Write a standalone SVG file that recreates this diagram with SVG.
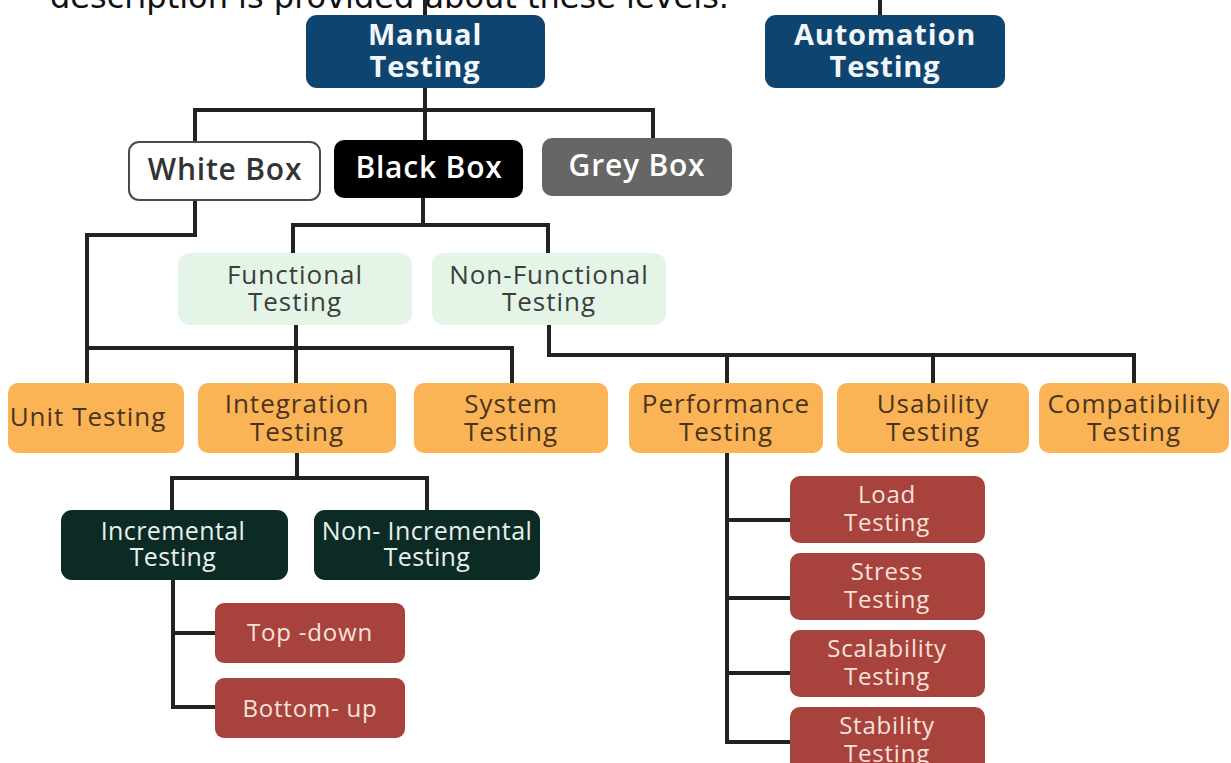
<svg xmlns="http://www.w3.org/2000/svg" width="1231" height="763" viewBox="0 0 1231 763">
  <style>
    .t { font-family: "Open Sans", "Noto Sans", "Liberation Sans", sans-serif; text-anchor: middle; }
    .hdr { font-family: "DejaVu Sans", sans-serif; font-size: 32px; fill: #111; }
    .navy rect { fill: #0e4470; }
    .navy text { fill: #f2f6f8; font-weight: 700; font-size: 29px; letter-spacing: 0.8px; }
    .box text { font-size: 30px; font-weight: 600; letter-spacing: 0.8px; }
    .green rect { fill: #e4f5e7; }
    .green text { fill: #3a3f3c; font-size: 26px; letter-spacing: 1px; }
    .orange rect { fill: #fbb455; }
    .orange text { fill: #4a3420; font-size: 26px; letter-spacing: 1px; }
    .dark rect { fill: #0c2b25; }
    .dark text { fill: #e8f0ec; font-size: 25px; letter-spacing: 0.4px; }
    .red rect { fill: #a8423c; }
    .red text { fill: #f7e3dc; font-size: 24px; letter-spacing: 0.8px; }
    .links path { fill: none; stroke: #222; stroke-width: 4; }
  </style>

  <rect width="1231" height="763" fill="#ffffff"/>

  <!-- page text cut at the top edge -->
  <text class="hdr" x="50" y="8">description is provided about these levels.</text>

  <!-- connectors -->
  <g class="links">
    <path d="M425 0 V15"/>
    <path d="M880 0 V15"/>
    <path d="M425 88 V140 M195 142 V110 H653 V138"/>
    <path d="M195 200 V235 H87 V383"/>
    <path d="M423 198 V225 M293 253 V225 H548 V253"/>
    <path d="M296 325 V383 M87 348 H512 V383"/>
    <path d="M549 325 V355 H1134 V383 M727 355 V383 M933 355 V383"/>
    <path d="M297 453 V478 M172 510 V478 H427 V510"/>
    <path d="M173 580 V707 H215 M173 633 H215"/>
    <path d="M727 453 V742 H790 M727 520 H790 M727 598 H790 M727 673 H790"/>
  </g>

  <!-- top level -->
  <g id="manual" class="navy">
    <rect x="306" y="15" width="239" height="73" rx="11"/>
    <text class="t" x="425" y="45">Manual</text>
    <text class="t" x="425" y="77">Testing</text>
  </g>
  <g id="automation" class="navy">
    <rect x="765" y="15" width="240" height="73" rx="11"/>
    <text class="t" x="885" y="45">Automation</text>
    <text class="t" x="885" y="77">Testing</text>
  </g>

  <!-- box types -->
  <g id="white-box" class="box">
    <rect x="129" y="142" width="191" height="58" rx="10" fill="#ffffff" stroke="#4a4a4a" stroke-width="2"/>
    <text class="t" x="225" y="180" fill="#333">White Box</text>
  </g>
  <g id="black-box" class="box">
    <rect x="334" y="140" width="189" height="58" rx="10" fill="#000000"/>
    <text class="t" x="429" y="178" fill="#ffffff">Black Box</text>
  </g>
  <g id="grey-box" class="box">
    <rect x="542" y="138" width="190" height="58" rx="10" fill="#666666"/>
    <text class="t" x="637" y="176" fill="#ffffff">Grey Box</text>
  </g>

  <!-- functional split -->
  <g id="functional" class="green">
    <rect x="178" y="253" width="234" height="72" rx="12"/>
    <text class="t" x="295" y="284">Functional</text>
    <text class="t" x="295" y="311">Testing</text>
  </g>
  <g id="non-functional" class="green">
    <rect x="432" y="253" width="234" height="72" rx="12"/>
    <text class="t" x="549" y="284">Non-Functional</text>
    <text class="t" x="549" y="311">Testing</text>
  </g>

  <!-- testing levels -->
  <g id="unit" class="orange">
    <rect x="8" y="383" width="176" height="70" rx="10"/>
    <text class="t" x="88" y="426">Unit Testing</text>
  </g>
  <g id="integration" class="orange">
    <rect x="198" y="383" width="198" height="70" rx="10"/>
    <text class="t" x="297" y="413">Integration</text>
    <text class="t" x="297" y="441">Testing</text>
  </g>
  <g id="system" class="orange">
    <rect x="414" y="383" width="194" height="70" rx="10"/>
    <text class="t" x="511" y="413">System</text>
    <text class="t" x="511" y="441">Testing</text>
  </g>
  <g id="performance" class="orange">
    <rect x="629" y="383" width="194" height="70" rx="10"/>
    <text class="t" x="726" y="413">Performance</text>
    <text class="t" x="726" y="441">Testing</text>
  </g>
  <g id="usability" class="orange">
    <rect x="837" y="383" width="192" height="70" rx="10"/>
    <text class="t" x="933" y="413">Usability</text>
    <text class="t" x="933" y="441">Testing</text>
  </g>
  <g id="compatibility" class="orange">
    <rect x="1039" y="383" width="190" height="70" rx="10"/>
    <text class="t" x="1134" y="413">Compatibility</text>
    <text class="t" x="1134" y="441">Testing</text>
  </g>

  <!-- integration approaches -->
  <g id="incremental" class="dark">
    <rect x="61" y="510" width="227" height="70" rx="11"/>
    <text class="t" x="173" y="540">Incremental</text>
    <text class="t" x="173" y="566">Testing</text>
  </g>
  <g id="non-incremental" class="dark">
    <rect x="314" y="510" width="226" height="70" rx="11"/>
    <text class="t" x="427" y="540">Non- Incremental</text>
    <text class="t" x="427" y="566">Testing</text>
  </g>
  <g id="top-down" class="red">
    <rect x="215" y="603" width="190" height="60" rx="9"/>
    <text class="t" x="310" y="641">Top -down</text>
  </g>
  <g id="bottom-up" class="red">
    <rect x="215" y="678" width="190" height="60" rx="9"/>
    <text class="t" x="310" y="717">Bottom- up</text>
  </g>

  <!-- performance sub-types -->
  <g id="load" class="red">
    <rect x="790" y="476" width="195" height="67" rx="10"/>
    <text class="t" x="887" y="503">Load</text>
    <text class="t" x="887" y="531">Testing</text>
  </g>
  <g id="stress" class="red">
    <rect x="790" y="553" width="195" height="67" rx="10"/>
    <text class="t" x="887" y="580">Stress</text>
    <text class="t" x="887" y="608">Testing</text>
  </g>
  <g id="scalability" class="red">
    <rect x="790" y="630" width="195" height="67" rx="10"/>
    <text class="t" x="887" y="657">Scalability</text>
    <text class="t" x="887" y="685">Testing</text>
  </g>
  <g id="stability" class="red">
    <rect x="790" y="707" width="195" height="67" rx="10"/>
    <text class="t" x="887" y="734">Stability</text>
    <text class="t" x="887" y="762">Testing</text>
  </g>
</svg>
